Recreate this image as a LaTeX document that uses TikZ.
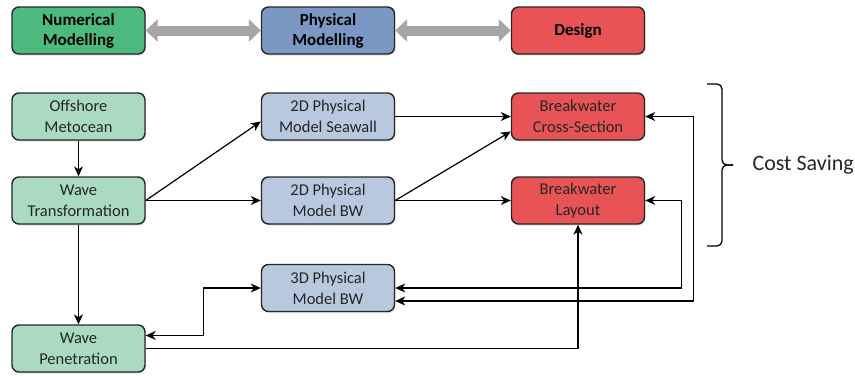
\documentclass[tikz,border=0pt]{standalone}
\usepackage{fontspec}
\setmainfont{Carlito}
\usepackage{tikz}
\usetikzlibrary{arrows.meta,shadows}

\definecolor{numgreen}{HTML}{4DBB7F}
\definecolor{physblue}{HTML}{7B98C4}
\definecolor{desred}{HTML}{E85455}
\definecolor{lightgreen}{HTML}{AADBC1}
\definecolor{lightblue}{HTML}{B8C8DE}

\begin{document}
\begin{tikzpicture}[x=1pt,y=-1pt,
    box/.style={draw=black!85,line width=1.4pt,rounded corners=7pt,
      minimum width=133pt,minimum height=47pt,inner sep=0pt,align=center,
      font=\fontsize{16.5}{21}\selectfont,text=black!85,
      drop shadow={opacity=.25,shadow xshift=1pt,shadow yshift=-1.5pt}},
    headbox/.style={box,font=\fontsize{17}{20}\selectfont\bfseries,text=black},
    link/.style={line width=1.2pt,-{Stealth[length=10pt,width=9pt,inset=3pt]}},
    twolink/.style={line width=1.2pt,{Stealth[length=10pt,width=9pt,inset=3pt]}-{Stealth[length=10pt,width=9pt,inset=3pt]}},
    greylink/.style={draw=black!35,line width=10pt,{Triangle[length=12pt,width=22pt]}-{Triangle[length=12pt,width=22pt]}}]
  \useasboundingbox (0,0) rectangle (855,376);
  % top row
  \node[headbox,fill=numgreen] (num) at (78.5,30.5) {Numerical\\Modelling};
  \node[headbox,fill=physblue] (phys) at (328,30.5) {Physical\\Modelling};
  \node[headbox,fill=desred] (des) at (578,30.5) {Design};
  \draw[greylink] (num) -- (phys);
  \draw[greylink] (phys) -- (des);
  % numerical
  \node[box,fill=lightgreen] (off) at (78.5,116.5) {Offshore\\Metocean};
  \node[box,fill=lightgreen] (tra) at (78.5,200.5) {Wave\\Transformation};
  \node[box,fill=lightgreen] (pen) at (78.5,348.5) {Wave\\Penetration};
  % physical
  \node[box,fill=lightblue] (sea) at (328,116.5) {2D Physical\\Model Seawall};
  \node[box,fill=lightblue] (bwtwo) at (328,200.5) {2D Physical\\Model BW};
  \node[box,fill=lightblue] (bwthree) at (328,288) {3D Physical\\Model BW};
  % design
  \node[box,fill=desred] (cro) at (578,116.5) {Breakwater\\Cross-Section};
  \node[box,fill=desred] (lay) at (578,200.5) {Breakwater\\Layout};
  % connectors
  \draw[link] (off) -- (tra);
  \draw[link] (tra.east) -- ([yshift=-5pt]sea.west);
  \draw[link] (tra) -- (bwtwo);
  \draw[link] (tra) -- (pen);
  \draw[link] (sea) -- (cro);
  \draw[link] (bwtwo.east) -- ([yshift=-15pt]cro.west);
  \draw[link] (bwtwo) -- (lay);
  \draw[twolink] ([yshift=13pt]pen.east) -- ++(58,0) |- (bwthree.west);
  \draw[link] (pen.east) -| (lay.south);
  \draw[twolink] (bwthree.east) -- ++(286,0) |- (lay.east);
  \draw[twolink] ([yshift=-13pt]bwthree.east) -- ++(298,0) |- (cro.east);
  % brace
  \coordinate (tip) at (733,165);
  \draw[line width=1.3pt,rounded corners=5pt] (707,84) -| (722,165) -- (tip);
  \draw[line width=1.3pt,rounded corners=5pt] (tip) -- (722,165) |- (707,246);
  \node[anchor=west,font=\fontsize{22}{26}\selectfont,text=black!85] (cost) at (749,165) {Cost Saving};
\end{tikzpicture}
\end{document}
